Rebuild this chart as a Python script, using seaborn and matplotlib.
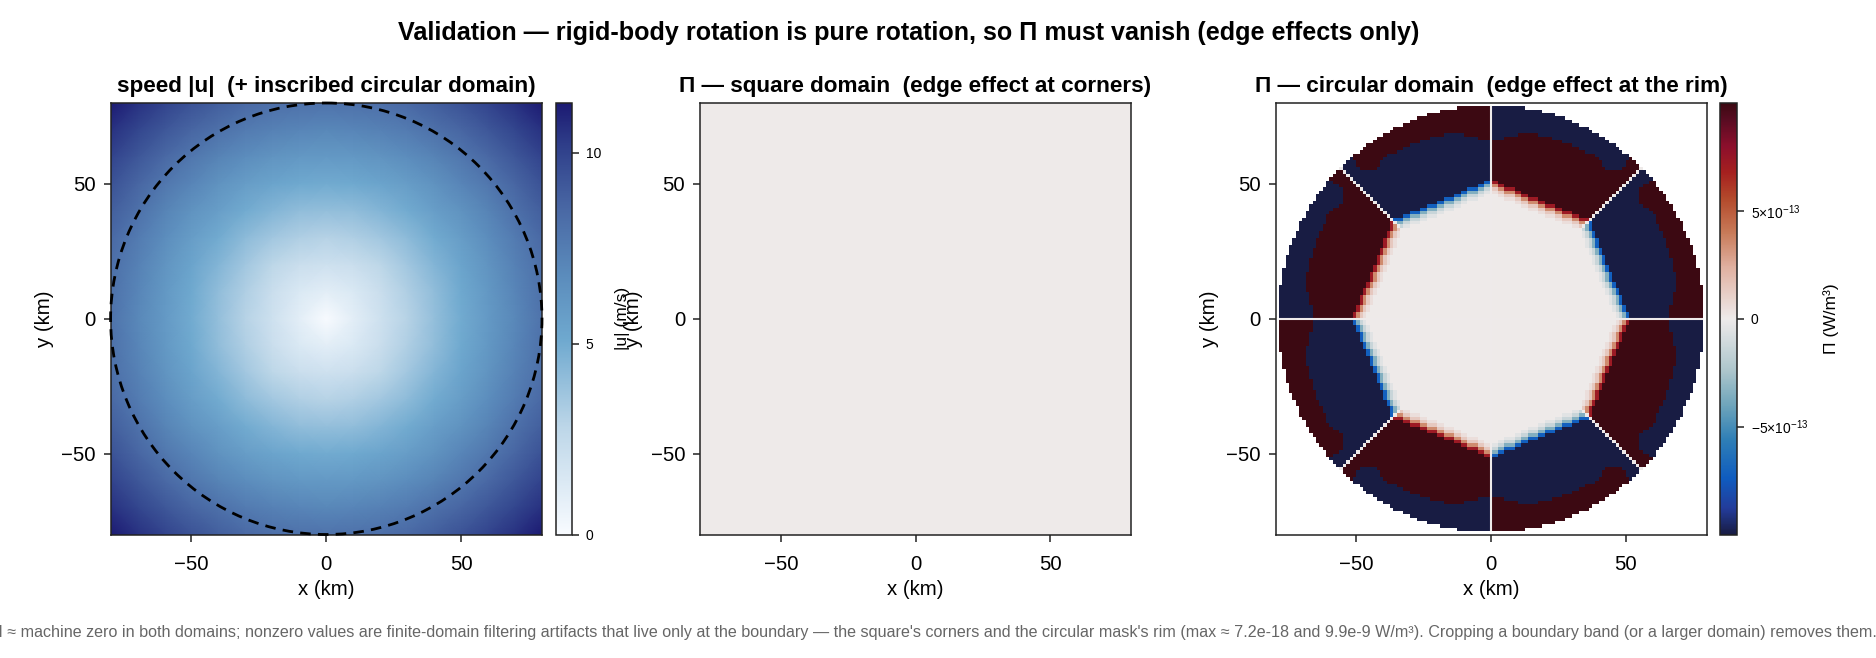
import numpy as np
import seaborn as sns
from matplotlib import pyplot as plt
from matplotlib.colors import LinearSegmentedColormap
from matplotlib.patches import Circle

FIG_W, FIG_H = 1876, 658

suptitle = "Validation — rigid-body rotation is pure rotation, so Π must vanish (edge effects only)"
titles = [
    "speed |u|  (+ inscribed circular domain)",
    "Π — square domain  (edge effect at corners)",
    "Π — circular domain  (edge effect at the rim)",
]
caption = (
    "Π ≈ machine zero in both domains; nonzero values are finite-domain filtering artifacts that live only "
    "at the boundary — the square's corners and the circular mask's rim (max ≈ 7.2e-18 and 9.9e-9 W/m³). "
    "Cropping a boundary band (or a larger domain) removes them."
)

tick_km = [-50, 0, 50]
tick_labels = ["−50", "0", "50"]
domain_half_km = 80

# speed read at 10 km nodes, one quadrant, centre at [0][0]
speed_quadrant = [
    [0.0, 1.0, 2.0, 3.0, 4.0, 5.0, 6.0, 7.0, 8.0],
    [1.0, 1.4, 2.2, 3.2, 4.1, 5.1, 6.1, 7.1, 8.1],
    [2.0, 2.2, 2.8, 3.6, 4.5, 5.4, 6.3, 7.3, 8.2],
    [3.0, 3.2, 3.6, 4.2, 5.0, 5.8, 6.7, 7.6, 8.5],
    [4.0, 4.1, 4.5, 5.0, 5.7, 6.4, 7.2, 8.1, 8.9],
    [5.0, 5.1, 5.4, 5.8, 6.4, 7.1, 7.8, 8.6, 9.4],
    [6.0, 6.1, 6.3, 6.7, 7.2, 7.8, 8.5, 9.2, 10.0],
    [7.0, 7.1, 7.3, 7.6, 8.1, 8.6, 9.2, 9.9, 10.6],
    [8.0, 8.1, 8.2, 8.5, 8.9, 9.4, 10.0, 10.6, 11.31],
]
speed_ticks = [0, 5, 10]
speed_max = 11.31

# square domain: zero everywhere at this colour range
pi_square = [[0.0, 0.0], [0.0, 0.0]]

rim_rows = [63, 63, 63, 63, 63, 63, 63, 63, 63, 63, 62, 62, 62, 62, 62,
            61, 61, 61, 61, 60, 60, 60, 59, 59, 58, 58, 57, 57, 57, 56,
            55, 55, 54, 54, 53, 52, 52, 51, 50, 49, 49, 48, 47, 46, 45]
ring_rows = [53, 53, 53, 53, 54, 54, 54, 54, 55, 55, 55, 55, 55, 55, 54,
             54, 54, 54, 53, 53, 53, 52, 52, 52, 51, 51, 50, 50, 49, 49,
             49, 48, 47, 45, 44, 44, 44, 44, 44, 45, 47, 48, 47, 46, 45]
inner_rows = [41, 41, 40, 40, 39, 39, 39, 38, 38, 37, 37, 36, 36, 36, 35,
              35, 34, 34, 34, 33, 33, 32, 32, 32, 31, 31, 30, 30, 30, 30]
edge_ramp = [0.72, 0.35, 0.14, 0.05]  # fraction of the limit, moving into the centre
pi_limit = 1e-12
pi_ticks = [-5e-13, 0, 5e-13]
pi_tick_labels = ["−5×10$^{-13}$", "0", "5×10$^{-13}$"]

speed_colors = ["#f8fbff", "#bcd6e8", "#6fa9cf", "#5b8cbc", "#4a69a5", "#2f3f8a", "#1c1a72"]
speed_stops = [0.0, 0.25, 0.45, 0.6, 0.75, 0.9, 1.0]
pi_colors = ["#181c43", "#233c9b", "#0f5cbf", "#2f7fb6", "#6fa5bb", "#adc6cc", "#eeeaea",
             "#e0b0a0", "#c87a58", "#b3492b", "#a5201f", "#8c0f2c", "#5a0c22", "#3c0912"]
pi_stops = [0.0, 0.06, 0.13, 0.22, 0.3, 0.38, 0.5, 0.62, 0.7, 0.78, 0.84, 0.9, 0.96, 1.0]
zero_color = "#eeeaea"

sns.set_theme(style="white")
plt.rcParams["font.family"] = ["Liberation Sans", "DejaVu Sans"]
plt.rcParams["mathtext.fontset"] = "custom"
plt.rcParams["mathtext.rm"] = "Liberation Sans"
plt.rcParams["mathtext.default"] = "regular"
plt.rcParams["axes.unicode_minus"] = True

speed_cmap = LinearSegmentedColormap.from_list("speed", list(zip(speed_stops, speed_colors)), N=512)
pi_cmap = LinearSegmentedColormap.from_list("pi", list(zip(pi_stops, pi_colors)), N=512)


def px_axes(fig, x0, x1, y0, y1):
    return fig.add_axes([x0 / FIG_W, 1 - y1 / FIG_H, (x1 - x0) / FIG_W, (y1 - y0) / FIG_H])


def build_pi_grid():
    half = 64
    q = np.full((half, half), np.nan)
    for i, (rim, ring) in enumerate(zip(rim_rows, ring_rows)):
        inner = inner_rows[i] if i < len(inner_rows) else i + 1
        q[i, i] = 0.0
        for j in range(i + 1, rim):
            if j >= ring:
                v = -1.0
            elif j >= inner:
                v = 1.0
            elif inner - j <= len(edge_ramp):
                v = edge_ramp[inner - j - 1]
            else:
                v = 0.0
            q[j, i] = v
            q[i, j] = -v
    top = np.hstack([-q[::-1, ::-1], q[::-1, :]])
    bottom = np.hstack([q[:, ::-1], -q])
    return np.vstack([top, bottom]) * pi_limit


def style_panel(ax, title, n_cells):
    scale = n_cells / (2 * domain_half_km)
    ax.set_xticks([(k + domain_half_km) * scale for k in tick_km], tick_labels)
    ax.set_yticks([(domain_half_km - k) * scale for k in tick_km], tick_labels, rotation=0)
    ax.tick_params(left=True, bottom=True, length=4.7, width=1.1, color="#222222", labelsize=14.6,
                   labelcolor="black")
    ax.tick_params(axis="x", pad=10)
    ax.tick_params(axis="y", pad=6)
    for spine in ax.spines.values():
        spine.set_visible(True)
        spine.set_linewidth(1.1)
        spine.set_color("#222222")
    ax.set_xlabel("x (km)", fontsize=14.7, color="black")
    ax.set_ylabel("y (km)", fontsize=14.7, color="black")
    ax.xaxis.set_label_coords(0.5, -45 / 431, transform=ax.transAxes)
    ax.yaxis.set_label_coords(-57 / 431, 0.5, transform=ax.transAxes)
    ax.set_title(title, fontsize=16.2, fontweight="bold", color="black", pad=8)


def style_cbar(mesh, cax, ticks, labels, label, label_x):
    cb = mesh.colorbar
    cb.set_ticks(ticks, labels=labels)
    cb.outline.set_visible(True)
    cb.outline.set_linewidth(1.1)
    cb.outline.set_edgecolor("#222222")
    cax.tick_params(right=True, length=4.7, width=1.1, color="#222222", labelsize=10, pad=5.5, labelcolor="black")
    cax.text(label_x, 0.5, label, rotation=90, transform=cax.transAxes, ha="center", va="center",
             fontsize=12.5, color="black")


fig = plt.figure(figsize=(FIG_W / 100, FIG_H / 100), dpi=100)
ax1 = px_axes(fig, 110.6, 542, 103, 534.5)
cax1 = px_axes(fig, 555.5, 571.5, 103, 534.5)
ax2 = px_axes(fig, 700, 1131, 103, 534.5)
ax3 = px_axes(fig, 1275.5, 1706.5, 103, 534.5)
cax3 = px_axes(fig, 1720, 1736.5, 103, 534.5)

quad = np.array(speed_quadrant)
right = np.hstack([quad[:, :0:-1], quad])
speed_grid = np.vstack([right[:0:-1], right])
n_nodes = speed_grid.shape[0] - 1

sns.heatmap(speed_grid, ax=ax1, cmap=speed_cmap, vmin=0, vmax=speed_max, shading="gouraud",
            cbar_ax=cax1, xticklabels=False, yticklabels=False)
ax1.set_xlim(0, n_nodes)
ax1.set_ylim(n_nodes, 0)
style_panel(ax1, titles[0], n_nodes)
ax1.add_patch(Circle((n_nodes / 2, n_nodes / 2), n_nodes / 2, fill=False, edgecolor="black", linewidth=2.0,
                     linestyle=(0, (3.8, 2.6)), clip_on=False, zorder=5))
style_cbar(ax1.collections[0], cax1, speed_ticks, [str(t) for t in speed_ticks], "|u| (m/s)", 4.2)

square = np.array(pi_square)
sns.heatmap(square, ax=ax2, cmap=pi_cmap, vmin=-pi_limit, vmax=pi_limit, cbar=False,
            xticklabels=False, yticklabels=False)
style_panel(ax2, titles[1], square.shape[0])

pi_grid = build_pi_grid()
sns.heatmap(pi_grid, ax=ax3, cmap=pi_cmap, vmin=-pi_limit, vmax=pi_limit, cbar_ax=cax3,
            xticklabels=False, yticklabels=False)
style_panel(ax3, titles[2], pi_grid.shape[0])
mid = pi_grid.shape[0] / 2
ax3.vlines(mid, mid - rim_rows[0], mid + rim_rows[0], color=zero_color, linewidth=1.5, zorder=4)
ax3.hlines(mid, mid - rim_rows[0], mid + rim_rows[0], color=zero_color, linewidth=1.5, zorder=4)
style_cbar(ax3.collections[0], cax3, pi_ticks, pi_tick_labels, "Π (W/m³)", 6.7)

fig.text(908.5 / FIG_W, 1 - 33 / FIG_H, suptitle, ha="center", va="center", fontsize=18.13, fontweight="bold",
         color="black")
fig.text(934 / FIG_W, 1 - 632 / FIG_H, caption, ha="center", va="center", fontsize=11.62, color="#666666")

fig.savefig("out.png", dpi=100)
